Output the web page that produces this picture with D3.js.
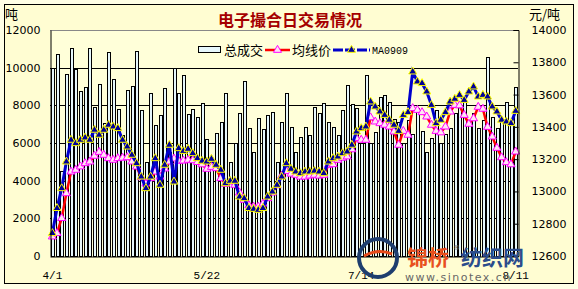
<!DOCTYPE html>
<html>
<head>
<meta charset="utf-8">
<script src="https://cdn.jsdelivr.net/npm/d3@7"></script>
<style>
  body { margin: 0; background: #fff; }
  text { font-family: "DejaVu Sans", sans-serif; }
</style>
</head>
<body>
<svg width="578" height="289"></svg>
<script>
// daily total volume (t), one per trading day
var volume = [
  9970, 10710, 4500, 9660, 11060, 9910, 8780, 8960, 11060, 7930,
  9120, 7060, 10850, 9380, 7790, 6425, 8800, 9030, 10870, 7750,
  5000, 8640, 6950, 7480, 8900, 5500, 9970, 8680, 9610, 7540,
  7800, 7400, 8110, 6200, 5000, 6520, 7100, 8680, 5000, 5980,
  7570, 9290, 6780, 5500, 7310, 6720, 7490, 7660, 5000, 7100,
  8640, 6860, 5500, 6330, 6860, 6420, 7930, 7600, 8110, 7130,
  6860, 6420, 7750, 9080, 8050, 7870, 6000, 9600, 6000, 6600,
  8460, 8550, 8190, 7250, 7100, 6000, 7220, 6500, 7840, 6660,
  5500, 6250, 7750, 6000, 6500, 6800, 7570, 8000, 8300, 7000,
  7600, 6800, 7200, 10580, 7400, 6800, 7220, 8190, 7040, 8990
];
// 均线价 (yuan/t)
var avgPrice = [
  12720, 12741, 12834, 12988, 13122, 13133, 13154, 13174, 13184, 13220,
  13244, 13226, 13205, 13195, 13205, 13208, 13211, 13184, 13153, 13087,
  13048, 13081, 13122, 13091, 13141, 13184, 13203, 13189, 13190, 13195,
  13192, 13181, 13167, 13139, 13151, 13143, 13081, 13046, 13060, 13040,
  12992, 12947, 12914, 12905, 12905, 12924, 12957, 12992, 13037, 13097,
  13125, 13109, 13102, 13091, 13091, 13097, 13102, 13097, 13102, 13164,
  13168, 13195, 13208, 13216, 13260, 13329, 13319, 13319, 13458, 13432,
  13422, 13412, 13401, 13370, 13288, 13374, 13350, 13515, 13504, 13490,
  13463, 13412, 13374, 13365, 13401, 13494, 13535, 13532, 13473, 13418,
  13452, 13523, 13511, 13399, 13339, 13269, 13211, 13180, 13167, 13246
];
// MA0909 (yuan/t)
var ma0909 = [
  12741, 12896, 13019, 13184, 13319, 13298, 13319, 13333, 13319, 13381,
  13350, 13381, 13412, 13401, 13391, 13319, 13277, 13226, 13174, 13091,
  13019, 13091, 13205, 13040, 13164, 13288, 13060, 13267, 13250, 13263,
  13236, 13205, 13189, 13184, 13201, 13164, 13133, 13050, 13065, 13065,
  12967, 12957, 12896, 12891, 12885, 12896, 12967, 12998, 13040, 13091,
  13174, 13139, 13122, 13112, 13122, 13122, 13127, 13122, 13112, 13184,
  13205, 13215, 13236, 13246, 13288, 13370, 13391, 13401, 13556, 13525,
  13494, 13473, 13443, 13412, 13374, 13473, 13490, 13742, 13680, 13670,
  13618, 13535, 13422, 13443, 13490, 13556, 13573, 13597, 13566, 13618,
  13649, 13587, 13597, 13587, 13525, 13494, 13443, 13432, 13422, 13498
];
var tickLabels = ['4/1', '5/22', '7/14', '8/11'];
var tickIndex = [0, 33, 66, 99];
var leftTicks = [0, 2000, 4000, 6000, 8000, 10000, 12000];
var rightTicks = [12600, 12800, 13000, 13200, 13400, 13600, 13800, 14000];

var svg = d3.select('svg');
var W = 578, H = 289;
var pL = 50, pR = 518, pT = 30, pB = 256;

svg.append('rect').attr('width', W).attr('height', H).attr('fill', '#FFFFE6');
svg.append('rect')
  .attr('x', 4.5).attr('y', 4.5).attr('width', 569).attr('height', 279)
  .attr('fill', '#FFFDD2').attr('stroke', '#000');

var x = d3.scaleBand()
  .domain(d3.range(volume.length))
  .range([pL, pR])
  .paddingInner(0.45).paddingOuter(0.225);
var yL = d3.scaleLinear().domain([0, 12000]).range([pB, pT]);
var yR = d3.scaleLinear().domain([12600, 14000]).range([pB, pT]);
var cx = function(i) { return x(i) + x.bandwidth() / 2; };

// plot area
svg.append('rect').attr('x', pL).attr('y', pT)
  .attr('width', pR - pL).attr('height', pB - pT).attr('fill', '#FFFFD9');

var g = svg.append('g');
g.selectAll('.grid').data(leftTicks.slice(1, -1)).enter().append('line')
  .attr('x1', pL).attr('x2', pR)
  .attr('y1', function(d) { return Math.round(yL(d)) + 0.5; })
  .attr('y2', function(d) { return Math.round(yL(d)) + 0.5; })
  .attr('stroke', '#000');
g.append('line').attr('x1', pL).attr('x2', pR)
  .attr('y1', Math.round(yL(12000)) + 0.5).attr('y2', Math.round(yL(12000)) + 0.5)
  .attr('stroke', '#888');

// bars
g.selectAll('.bar').data(volume).enter().append('rect')
  .attr('x', function(d, i) { return Math.round(x(i)) + 0.5; })
  .attr('y', function(d) { return Math.round(yL(d)) + 0.5; })
  .attr('width', Math.max(1, Math.round(x.bandwidth())))
  .attr('height', function(d) { return pB - Math.round(yL(d)); })
  .attr('fill', '#E6F7FC').attr('stroke', '#000').attr('stroke-width', 1);

// axes
var axL = svg.append('g').attr('transform', 'translate(' + (pL + 0.5) + ',0)')
  .call(d3.axisLeft(yL).tickValues(leftTicks).tickSize(0).tickPadding(10)
    .tickFormat(d3.format('d')));
var axR = svg.append('g').attr('transform', 'translate(' + (pR + 0.5) + ',0)')
  .call(d3.axisRight(yR).tickValues(rightTicks).tickSize(-5).tickPadding(13)
    .tickFormat(d3.format('d')));
var axB = svg.append('g').attr('transform', 'translate(0,' + (pB + 0.5) + ')')
  .call(d3.axisBottom(x).tickValues(tickIndex).tickSize(0).tickPadding(15)
    .tickFormat(function(d) { return tickLabels[tickIndex.indexOf(d)]; }));
[axL, axR, axB].forEach(function(a) {
  a.select('.domain').attr('stroke', '#000');
  a.selectAll('.tick line').attr('stroke', '#000');
  a.selectAll('text').attr('fill', '#000').style('font-size', '11px')
    .style('font-family', '"DejaVu Sans", sans-serif');
});
axB.selectAll('text').style('font-family', '"Liberation Mono", monospace').style('font-size', '11px');

// lines
var tri = d3.symbol().type(d3.symbolTriangle).size(28);
var lineR = d3.line().x(function(d, i) { return cx(i); }).y(function(d) { return yR(d); });
g.append('path').datum(avgPrice).attr('d', lineR)
  .attr('fill', 'none').attr('stroke', '#FF0000').attr('stroke-width', 2.5);
g.selectAll('.mr').data(avgPrice).enter().append('path')
  .attr('d', tri)
  .attr('transform', function(d, i) { return 'translate(' + cx(i) + ',' + yR(d) + ')'; })
  .attr('fill', '#FFE4F4').attr('stroke', '#FF00FF').attr('stroke-width', 1);

g.append('path').datum(ma0909).attr('d', lineR)
  .attr('fill', 'none').attr('stroke', '#0000CC').attr('stroke-width', 3);
g.selectAll('.mb').data(ma0909).enter().append('path')
  .attr('d', tri)
  .attr('transform', function(d, i) { return 'translate(' + cx(i) + ',' + yR(d) + ')'; })
  .attr('fill', '#000099').attr('stroke', '#FFFF00').attr('stroke-width', 1);

// titles
svg.append('text').attr('x', 290).attr('y', 26).attr('text-anchor', 'middle')
  .style('font-family', '"Noto Sans CJK SC"').style('font-size', '16px').style('font-weight', 'bold')
  .attr('fill', '#A50000').text('电子撮合日交易情况');
svg.append('text').attr('x', 5).attr('y', 19)
  .style('font-family', '"Noto Sans CJK SC"').style('font-size', '13px').text('吨');
svg.append('text').attr('x', 529).attr('y', 19)
  .style('font-family', '"Noto Sans CJK SC"').style('font-size', '13px').text('元/吨');

// legend
var lg = svg.append('g').attr('transform', 'translate(0,50)');
lg.append('rect').attr('x', 198.5).attr('y', -3.5).attr('width', 22).attr('height', 6)
  .attr('fill', '#E6F7FC').attr('stroke', '#000');
lg.append('text').attr('x', 224).attr('y', 5).style('font-family', '"Noto Sans CJK SC"')
  .style('font-size', '13px').text('总成交');
lg.append('line').attr('x1', 265).attr('x2', 290).attr('y1', 0).attr('y2', 0)
  .attr('stroke', '#FF0000').attr('stroke-width', 2.5);
lg.append('path').attr('d', tri).attr('transform', 'translate(277.5,0)')
  .attr('fill', '#FFE4F4').attr('stroke', '#FF00FF');
lg.append('text').attr('x', 292).attr('y', 5).style('font-family', '"Noto Sans CJK SC"')
  .style('font-size', '13px').text('均线价');
lg.append('line').attr('x1', 333).attr('x2', 370).attr('y1', 0).attr('y2', 0)
  .attr('stroke', '#0000CC').attr('stroke-width', 3).attr('stroke-dasharray', '10,2');
lg.append('path').attr('d', tri).attr('transform', 'translate(351.5,0)')
  .attr('fill', '#000099').attr('stroke', '#FFFF00');
lg.append('text').attr('x', 372).attr('y', 4).style('font-family', '"Liberation Mono", monospace')
  .style('font-size', '10px').text('MA0909');

// watermark
var wm = svg.append('g');
wm.append('circle').attr('cx', 378).attr('cy', 258).attr('r', 19)
  .attr('fill', 'none').attr('stroke', '#1E3E6E').attr('stroke-width', 4);
wm.append('path').attr('d', 'M364,256 Q378,248 392,254').attr('fill', 'none')
  .attr('stroke', '#E84A1A').attr('stroke-width', 3);
wm.append('text').attr('x', 407).attr('y', 265).style('font-family', '"Noto Sans CJK SC"')
  .style('font-size', '21px').style('font-weight', 'bold').attr('fill', '#E8501E').text('锦桥');
wm.append('text').attr('x', 453).attr('y', 250).style('font-size', '7px').attr('fill', '#777').text('®');
wm.append('text').attr('x', 461).attr('y', 265).style('font-family', '"Noto Sans CJK SC"')
  .style('font-size', '21px').style('font-weight', 'bold').attr('fill', '#2B4C8C').text('纺织网');
wm.append('text').attr('x', 405).attr('y', 281).style('font-size', '11px')
  .style('letter-spacing', '1.5px').attr('fill', '#666').text('www.sinotex.cn');
</script>
</body>
</html>
